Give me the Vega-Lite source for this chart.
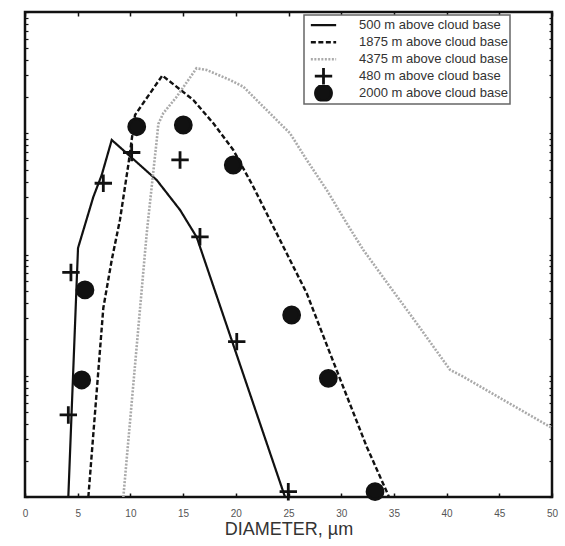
{
  "$schema": "https://vega.github.io/schema/vega-lite/v6.json",
  "width": 527,
  "height": 485,
  "padding": {"left": 25, "top": 12, "right": 13, "bottom": 49},
  "autosize": {"type": "none"},
  "background": "white",
  "datasets": {
    "lines": [
      {"series": "500 m above cloud base", "d": 4.11, "n": 1},
      {"series": "500 m above cloud base", "d": 5.03, "n": 113},
      {"series": "500 m above cloud base", "d": 6.48, "n": 298},
      {"series": "500 m above cloud base", "d": 7.28, "n": 453},
      {"series": "500 m above cloud base", "d": 8.23, "n": 880},
      {"series": "500 m above cloud base", "d": 9.65, "n": 684},
      {"series": "500 m above cloud base", "d": 12.5, "n": 411},
      {"series": "500 m above cloud base", "d": 14.71, "n": 233},
      {"series": "500 m above cloud base", "d": 16.29, "n": 139},
      {"series": "500 m above cloud base", "d": 24.67, "n": 1},
      {"series": "1875 m above cloud base", "d": 6.01, "n": 1},
      {"series": "1875 m above cloud base", "d": 7.43, "n": 36.2},
      {"series": "1875 m above cloud base", "d": 8.23, "n": 90.1},
      {"series": "1875 m above cloud base", "d": 9.01, "n": 193},
      {"series": "1875 m above cloud base", "d": 9.8, "n": 547},
      {"series": "1875 m above cloud base", "d": 10.44, "n": 1415},
      {"series": "1875 m above cloud base", "d": 13.03, "n": 2994},
      {"series": "1875 m above cloud base", "d": 15.97, "n": 1880},
      {"series": "1875 m above cloud base", "d": 17.87, "n": 1208},
      {"series": "1875 m above cloud base", "d": 19.76, "n": 728},
      {"series": "1875 m above cloud base", "d": 21.66, "n": 362},
      {"series": "1875 m above cloud base", "d": 24.51, "n": 116},
      {"series": "1875 m above cloud base", "d": 26.73, "n": 47.9},
      {"series": "1875 m above cloud base", "d": 28.94, "n": 15.3},
      {"series": "1875 m above cloud base", "d": 32.42, "n": 2.6},
      {"series": "1875 m above cloud base", "d": 34.54, "n": 1},
      {"series": "4375 m above cloud base", "d": 9.33, "n": 1},
      {"series": "4375 m above cloud base", "d": 11.55, "n": 150},
      {"series": "4375 m above cloud base", "d": 12.02, "n": 362},
      {"series": "4375 m above cloud base", "d": 12.5, "n": 880},
      {"series": "4375 m above cloud base", "d": 12.65, "n": 1192},
      {"series": "4375 m above cloud base", "d": 13.12, "n": 1462},
      {"series": "4375 m above cloud base", "d": 14.39, "n": 2000},
      {"series": "4375 m above cloud base", "d": 16.27, "n": 3435},
      {"series": "4375 m above cloud base", "d": 17.24, "n": 3324},
      {"series": "4375 m above cloud base", "d": 19.45, "n": 2750},
      {"series": "4375 m above cloud base", "d": 20.71, "n": 2421},
      {"series": "4375 m above cloud base", "d": 22.61, "n": 1656},
      {"series": "4375 m above cloud base", "d": 25.14, "n": 1000},
      {"series": "4375 m above cloud base", "d": 26.73, "n": 602},
      {"series": "4375 m above cloud base", "d": 28.63, "n": 340},
      {"series": "4375 m above cloud base", "d": 30.52, "n": 181},
      {"series": "4375 m above cloud base", "d": 32.1, "n": 109},
      {"series": "4375 m above cloud base", "d": 34.63, "n": 54.2},
      {"series": "4375 m above cloud base", "d": 37.16, "n": 27.1},
      {"series": "4375 m above cloud base", "d": 40.32, "n": 11.2},
      {"series": "4375 m above cloud base", "d": 41.59, "n": 9.82},
      {"series": "4375 m above cloud base", "d": 45.38, "n": 6.31},
      {"series": "4375 m above cloud base", "d": 50, "n": 3.71}
    ],
    "points": [
      {"series": "480 m above cloud base", "d": 4.36, "n": 71.1},
      {"series": "480 m above cloud base", "d": 4.11, "n": 4.75},
      {"series": "480 m above cloud base", "d": 7.43, "n": 387},
      {"series": "480 m above cloud base", "d": 10.12, "n": 694},
      {"series": "480 m above cloud base", "d": 14.71, "n": 602},
      {"series": "480 m above cloud base", "d": 16.6, "n": 140},
      {"series": "480 m above cloud base", "d": 20.09, "n": 19.1},
      {"series": "480 m above cloud base", "d": 24.98, "n": 1.106},
      {"series": "2000 m above cloud base", "d": 5.69, "n": 51},
      {"series": "2000 m above cloud base", "d": 5.38, "n": 9.23},
      {"series": "2000 m above cloud base", "d": 10.6, "n": 1132},
      {"series": "2000 m above cloud base", "d": 15.02, "n": 1170},
      {"series": "2000 m above cloud base", "d": 19.76, "n": 547},
      {"series": "2000 m above cloud base", "d": 25.3, "n": 31.7},
      {"series": "2000 m above cloud base", "d": 28.78, "n": 9.53},
      {"series": "2000 m above cloud base", "d": 33.21, "n": 1.106}
    ]
  },
  "layer": [
    {
      "data": {"name": "lines"},
      "mark": {"type": "line", "clip": true},
      "encoding": {
        "x": {
          "field": "d", "type": "quantitative",
          "scale": {"domain": [0, 50], "nice": false},
          "axis": {
            "orient": "bottom", "values": [0,5,10,15,20,25,30,35,40,45,50],
            "domain": false, "grid": false, "tickSize": -4, "tickColor": "#111", "tickWidth": 1.5,
            "labelPadding": 15, "labelFontSize": 10, "labelColor": "#555", "labelFlush": false,
            "title": "DIAMETER,  µm", "titleFontSize": 18, "titleFontWeight": "normal",
            "titleColor": "#333", "titlePadding": 2
          }
        },
        "y": {
          "field": "n", "type": "quantitative",
          "scale": {"type": "log", "domain": [1, 10000], "nice": false},
          "axis": {
            "orient": "left", "labels": false, "title": null, "domain": false, "grid": false,
            "values": [1,2,3,4,5,6,7,8,9,10,20,30,40,50,60,70,80,90,100,200,300,400,500,600,700,800,900,1000,2000,3000,4000,5000,6000,7000,8000,9000,10000],
            "tickSize": -3, "tickColor": "#111", "tickWidth": 1.2
          }
        },
        "detail": {"field": "series"},
        "stroke": {
          "field": "series", "type": "nominal",
          "scale": {
            "domain": ["500 m above cloud base","1875 m above cloud base","4375 m above cloud base","480 m above cloud base","2000 m above cloud base"],
            "range": ["#111","#111","#aaa","#111","#111"]
          },
          "legend": {"title": null}
        },
        "strokeDash": {
          "field": "series", "type": "nominal",
          "scale": {
            "domain": ["500 m above cloud base","1875 m above cloud base","4375 m above cloud base","480 m above cloud base","2000 m above cloud base"],
            "range": [[1,0],[5,2.5],[2,1.5],[1,0],[1,0]]
          },
          "legend": {"title": null}
        },
        "strokeWidth": {
          "field": "series", "type": "nominal",
          "scale": {
            "domain": ["500 m above cloud base","1875 m above cloud base","4375 m above cloud base","480 m above cloud base","2000 m above cloud base"],
            "range": [2.2, 3, 1.4, 3, 0]
          },
          "legend": {"title": null}
        }
      }
    },
    {
      "data": {"name": "points"},
      "mark": {"type": "point", "opacity": 1, "size": 250},
      "encoding": {
        "x": {
          "field": "d", "type": "quantitative",
          "axis": {
            "orient": "top", "values": [0,5,10,15,20,25,30,35,40,45,50], "labels": false, "title": null,
            "domain": false, "grid": false, "tickSize": -4, "tickColor": "#111", "tickWidth": 1.5
          }
        },
        "y": {
          "field": "n", "type": "quantitative",
          "axis": {
            "orient": "right", "labels": false, "title": null, "domain": false, "grid": false,
            "values": [1,2,3,4,5,6,7,8,9,10,20,30,40,50,60,70,80,90,100,200,300,400,500,600,700,800,900,1000,2000,3000,4000,5000,6000,7000,8000,9000,10000],
            "tickSize": -3, "tickColor": "#111", "tickWidth": 1.2
          }
        },
        "stroke": {"field": "series", "type": "nominal"},
        "strokeWidth": {"field": "series", "type": "nominal"},
        "shape": {
          "field": "series", "type": "nominal",
          "scale": {
            "domain": ["500 m above cloud base","1875 m above cloud base","4375 m above cloud base","480 m above cloud base","2000 m above cloud base"],
            "range": ["M-1.6,0L1.6,0","M-1.6,0L1.6,0","M-1.6,0L1.6,0","M-1.1,0L1.1,0M0,-1.1L0,1.1","circle"]
          },
          "legend": {"title": null}
        },
        "fill": {
          "field": "series", "type": "nominal",
          "scale": {
            "domain": ["500 m above cloud base","1875 m above cloud base","4375 m above cloud base","480 m above cloud base","2000 m above cloud base"],
            "range": ["transparent","transparent","transparent","transparent","#111"]
          },
          "legend": {"title": null}
        }
      }
    }
  ],
  "resolve": {"axis": {"x": "independent", "y": "independent"}},
  "config": {
    "view": {"stroke": "#111", "strokeWidth": 2.5},
    "font": "Liberation Sans",
    "legend": {
      "orient": "none",
      "legendX": 279,
      "legendY": 3,
      "padding": 2,
      "symbolOffset": 8,
      "symbolSize": 250,
      "clipHeight": 16.4,
      "strokeColor": "#666",
      "strokeWidth": 1.5,
      "fillColor": "white",
      "labelFontSize": 13,
      "labelColor": "#333",
      "labelOffset": 26,
      "rowPadding": 0
    }
  }
}
